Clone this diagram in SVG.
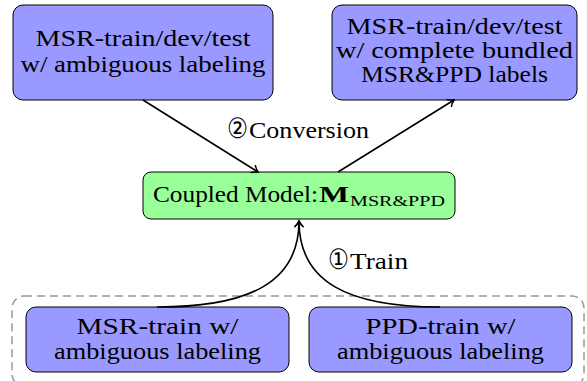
<svg xmlns="http://www.w3.org/2000/svg" width="587" height="381" viewBox="0 0 587 381">
<style>
.blue{fill:#9999ff;stroke:#000;stroke-width:1}
.green{fill:#99ff99;stroke:#000;stroke-width:1}
.t{font-family:'Liberation Serif','DejaVu Serif',serif;font-size:24px;fill:#000}
.c{text-anchor:middle}
.circ{font-family:'DejaVu Sans','Noto Sans CJK SC',sans-serif;font-size:28px}
.edge{fill:none;stroke:#000;stroke-width:1.6;marker-end:url(#arr)}
.group{fill:none;stroke:#999;stroke-width:1.5;stroke-dasharray:8 5}
</style>
<defs>
<marker id="arr" viewBox="-8 -6 10 12" refX="0" refY="0" markerWidth="10" markerHeight="12" markerUnits="userSpaceOnUse" orient="auto">
<path d="M-6,-4.5 C-4,-2 -1,-0.5 0,0 C-1,0.5 -4,2 -6,4.5" fill="none" stroke="#000" stroke-width="1.5"/>
</marker>
</defs>
<rect class="group" x="12" y="296" width="572" height="90" rx="12"/>
<g id="top-left">
<rect class="blue" x="13" y="5" width="260" height="95" rx="10"/>
<text class="t c" font-family="Liberation Serif, serif" x="143" y="46" textLength="215" lengthAdjust="spacingAndGlyphs">MSR-train/dev/test</text>
<text class="t c" font-family="Liberation Serif, serif" x="143" y="72" textLength="245" lengthAdjust="spacingAndGlyphs">w/ ambiguous labeling</text>
</g>
<g id="top-right">
<rect class="blue" x="332" y="5" width="245" height="95" rx="10"/>
<text class="t c" font-family="Liberation Serif, serif" x="454.5" y="34" textLength="216" lengthAdjust="spacingAndGlyphs">MSR-train/dev/test</text>
<text class="t c" font-family="Liberation Serif, serif" x="454.5" y="58" textLength="237" lengthAdjust="spacingAndGlyphs">w/ complete bundled</text>
<text class="t c" font-family="Liberation Serif, serif" x="454.5" y="82" textLength="187" lengthAdjust="spacingAndGlyphs">MSR&amp;PPD labels</text>
</g>
<g id="model">
<rect class="green" x="143" y="172" width="312" height="47" rx="8"/>
<text class="t" font-family="Liberation Serif, serif"><tspan x="153" y="202" textLength="165" lengthAdjust="spacingAndGlyphs">Coupled Model:</tspan><tspan x="319" y="202" font-weight="bold" textLength="30" lengthAdjust="spacingAndGlyphs">M</tspan><tspan x="350" y="206" font-size="15" textLength="95" lengthAdjust="spacingAndGlyphs">MSR&amp;PPD</tspan></text>
</g>
<g id="msr-train">
<rect class="blue" x="26" y="307" width="263" height="65" rx="10"/>
<text class="t c" font-family="Liberation Serif, serif" x="157.5" y="334" textLength="162" lengthAdjust="spacingAndGlyphs">MSR-train w/</text>
<text class="t c" font-family="Liberation Serif, serif" x="157.5" y="359" textLength="207" lengthAdjust="spacingAndGlyphs">ambiguous labeling</text>
</g>
<g id="ppd-train">
<rect class="blue" x="309" y="307" width="263" height="65" rx="10"/>
<text class="t c" font-family="Liberation Serif, serif" x="440.5" y="334" textLength="150" lengthAdjust="spacingAndGlyphs">PPD-train w/</text>
<text class="t c" font-family="Liberation Serif, serif" x="440.5" y="359" textLength="207" lengthAdjust="spacingAndGlyphs">ambiguous labeling</text>
</g>
<g id="connectors">
<path class="edge" d="M143,100 L258,172"/>
<path class="edge" d="M338,172 L454,100"/>
<path class="edge" d="M157,307 C250,307 299,282 299,221"/>
<path class="edge" d="M440,307 C348,307 299,282 299,221"/>
<text class="t" font-family="Liberation Serif, serif" y="138"><tspan class="circ" x="227" textLength="21" lengthAdjust="spacingAndGlyphs">②</tspan><tspan x="249" textLength="120" lengthAdjust="spacingAndGlyphs">Conversion</tspan></text>
<text class="t" font-family="Liberation Serif, serif" y="269"><tspan class="circ" x="328" textLength="21" lengthAdjust="spacingAndGlyphs">①</tspan><tspan x="350" textLength="58" lengthAdjust="spacingAndGlyphs">Train</tspan></text>
</g>
</svg>
